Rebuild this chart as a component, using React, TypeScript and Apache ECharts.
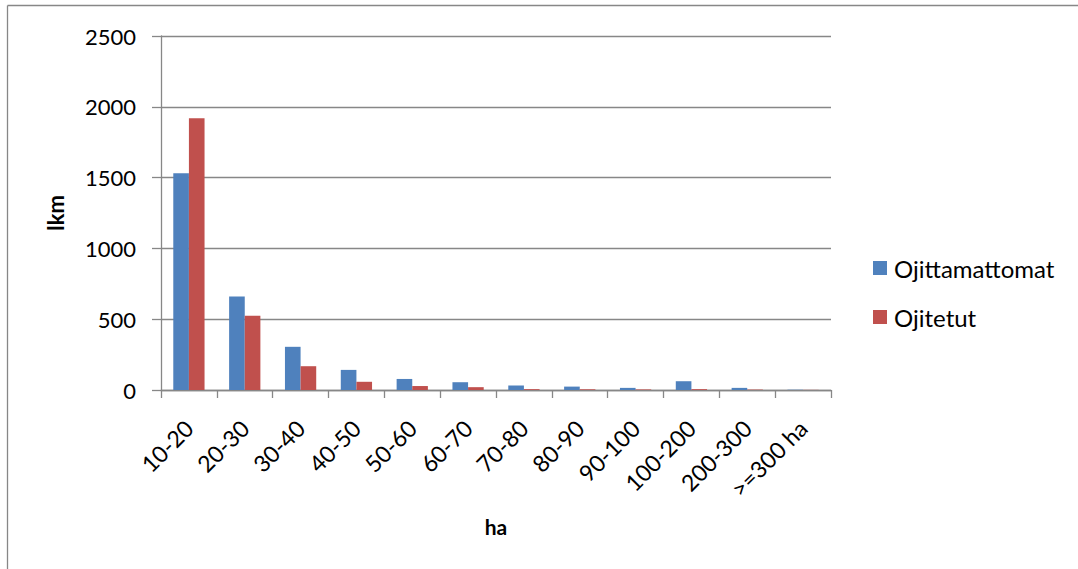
import React, { useEffect, useRef } from "react";
import * as echarts from "echarts";

const categories = ["10-20", "20-30", "30-40", "40-50", "50-60", "60-70", "70-80", "80-90", "90-100", "100-200", "200-300", ">=300 ha"];
const ojittamattomat = [1530, 660, 305, 142, 78, 55, 32, 24, 15, 62, 15, 2];
const ojitetut = [1920, 525, 168, 58, 28, 20, 6, 5, 4, 6, 3, 1];
const yTicks = { min: 0, max: 2500, interval: 500 };

const FONT = "Lato, 'Open Sans', sans-serif";
const GRAY = "#878787";

export default function App() {
  const ref = useRef<HTMLDivElement>(null);
  useEffect(() => {
    if (!ref.current) return;
    const chart = echarts.init(ref.current, null, { renderer: "svg" });
    chart.setOption({
      animation: false,
      backgroundColor: "#ffffff",
      textStyle: { fontFamily: FONT },
      grid: { left: 161, right: 247, top: 36, bottom: 179, containLabel: false },
      graphic: [
        { type: "line", shape: { x1: 7.5, y1: 5.5, x2: 1078, y2: 5.5 }, style: { stroke: GRAY, lineWidth: 1.3 } },
        { type: "line", shape: { x1: 7.5, y1: 5.5, x2: 7.5, y2: 569 }, style: { stroke: GRAY, lineWidth: 1.3 } },
      ],
      legend: {
        orient: "vertical",
        left: 873,
        top: 256,
        padding: 0,
        itemWidth: 14,
        itemHeight: 14,
        itemGap: 25,
        icon: "rect",
        textStyle: { fontFamily: FONT, fontSize: 24, color: "#000", lineHeight: 22, padding: [0, 0, 0, 2] },
        data: ["Ojittamattomat", "Ojitetut"],
      },
      xAxis: {
        type: "category",
        data: categories,
        name: "ha",
        nameLocation: "middle",
        nameGap: 126,
        nameTextStyle: { fontFamily: FONT, fontSize: 21, fontWeight: "bold", color: "#000" },
        axisLine: { lineStyle: { color: GRAY, width: 1.3 } },
        axisTick: { show: true, length: 8, lineStyle: { color: GRAY, width: 1.3 } },
        axisLabel: { rotate: 45, margin: 34, fontFamily: FONT, fontSize: 23, color: "#000", interval: 0 },
      },
      yAxis: {
        type: "value",
        min: yTicks.min,
        max: yTicks.max,
        interval: yTicks.interval,
        name: "lkm",
        nameLocation: "middle",
        nameGap: 95,
        nameRotate: 90,
        nameTextStyle: { fontFamily: FONT, fontSize: 22, fontWeight: "bold", color: "#000" },
        axisLine: { show: true, lineStyle: { color: GRAY, width: 1.3 } },
        axisTick: { show: true, length: 9, lineStyle: { color: GRAY, width: 1.3 } },
        axisLabel: { margin: 25, fontFamily: FONT, fontSize: 22, color: "#000", formatter: (v: number) => String(v) },
        splitLine: { show: true, lineStyle: { color: GRAY, width: 1.3 } },
      },
      series: [
        {
          name: "Ojittamattomat",
          type: "bar",
          data: ojittamattomat,
          itemStyle: { color: "#4F81BD" },
          barGap: "0%",
          barCategoryGap: "44%",
        },
        {
          name: "Ojitetut",
          type: "bar",
          data: ojitetut,
          itemStyle: { color: "#C0504D" },
          barGap: "0%",
          barCategoryGap: "44%",
        },
      ],
    });
    return () => chart.dispose();
  }, []);
  return (
    <div style={{ position: "absolute", left: 0, top: 0, width: 1078, height: 569, background: "#fff" }}>
      <div ref={ref} style={{ width: 1078, height: 569 }} />
    </div>
  );
}
